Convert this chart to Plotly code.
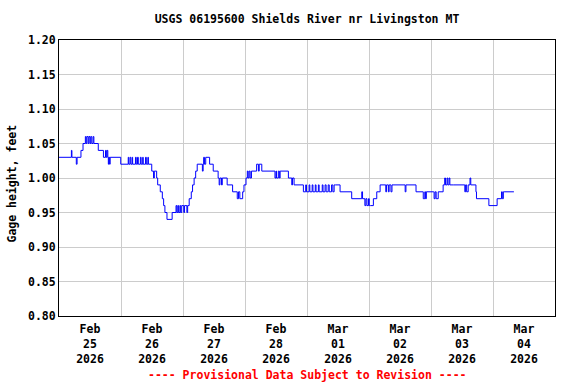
import pandas as pd
import plotly.graph_objects as go

# Change points of the gage-height step trace (hours since 2026-02-25 00:00, feet)
change_hours = [
    0, 4.8, 5.0, 6.7, 7.0, 8.5, 9.3, 10.2, 10.5, 10.8, 11.3, 11.6, 12.0, 12.3, 12.7, 13.2, 13.5,
    15.2, 17.2, 18.0, 18.3, 18.6, 18.9, 19.1, 19.3, 19.6, 19.8, 23.9,
    26.8, 27.0, 27.5, 27.8, 28.3, 28.5, 29.6, 29.9, 30.4, 30.7, 31.5, 31.8, 32.4, 32.6, 33.5, 33.8, 34.4, 34.6,
    35.9, 36.6, 36.9, 37.8, 38.2, 39.2, 40.0, 40.5, 41.0, 41.8, 43.8, 45.3,
    45.6, 46.0, 46.3, 46.8, 47.1, 47.5, 48.3, 48.6, 49.5, 49.8,
    50.4, 51.2, 51.7, 52.3, 52.9, 53.5, 55.5, 55.8, 56.0, 56.3, 56.8, 58.3,
    59.7, 61.6, 62.0, 62.3, 62.9, 63.2, 65.1, 67.2, 69.0, 69.5, 70.0,
    71.1, 71.6, 72.4, 72.9, 73.2, 73.6, 74.0, 74.5, 76.5, 77.2, 77.5, 78.5,
    83.6, 84.0, 84.2, 84.9, 85.3, 85.6, 88.8, 90.1, 90.4, 91.0, 94.6,
    95.5, 95.8, 96.8, 97.1, 98.0, 98.3, 99.2, 99.5, 100.4, 100.7, 101.9, 102.2, 103.0, 103.4,
    104.2, 104.6, 105.5, 106.0, 106.5, 107.0, 108.8, 113.3, 117.2, 117.5,
    118.4, 118.8, 119.2, 119.8, 120.1, 120.6, 121.7, 123.0, 124.3,
    126.5, 126.8, 127.5, 127.8, 128.5, 128.9, 134.0, 134.3, 138.2, 141.0,
    141.6, 141.9, 142.2, 144.9, 145.2, 145.6, 146.0, 146.8, 148.7, 149.3, 149.6, 150.2, 150.5, 151.0, 151.3,
    152.6, 157.1, 157.4, 157.8, 158.4, 159.1, 159.4, 161.4, 161.6, 166.4, 169.6, 171.3, 171.6, 172.0, 172.6, 176.1,
]
change_values = [
    1.03, 1.04, 1.03, 1.02, 1.03, 1.04, 1.05, 1.06, 1.05, 1.06, 1.05, 1.06, 1.05, 1.06, 1.05, 1.06, 1.05,
    1.04, 1.03, 1.04, 1.03, 1.04, 1.03, 1.02, 1.03, 1.02, 1.03, 1.02,
    1.03, 1.02, 1.03, 1.02, 1.03, 1.02, 1.03, 1.02, 1.03, 1.02, 1.03, 1.02, 1.03, 1.02, 1.03, 1.02, 1.03, 1.02,
    1.01, 1.00, 1.01, 1.00, 0.99, 0.98, 0.97, 0.96, 0.95, 0.94, 0.95, 0.96,
    0.95, 0.96, 0.95, 0.96, 0.95, 0.96, 0.95, 0.96, 0.95, 0.96,
    0.97, 0.98, 0.99, 1.00, 1.01, 1.02, 1.01, 1.02, 1.03, 1.02, 1.03, 1.02,
    1.01, 1.00, 0.99, 1.00, 0.99, 1.00, 0.99, 0.98, 0.97, 0.98, 0.97,
    0.98, 0.99, 1.00, 1.01, 1.00, 1.01, 1.00, 1.01, 1.02, 1.01, 1.02, 1.01,
    1.00, 1.01, 1.00, 1.01, 1.00, 1.01, 1.00, 0.99, 1.00, 0.99, 0.98,
    0.99, 0.98, 0.99, 0.98, 0.99, 0.98, 0.99, 0.98, 0.99, 0.98, 0.99, 0.98, 0.99, 0.98,
    0.99, 0.98, 0.99, 0.98, 0.99, 0.99, 0.98, 0.97, 0.98, 0.97,
    0.96, 0.97, 0.96, 0.97, 0.96, 0.96, 0.97, 0.98, 0.99,
    0.98, 0.99, 0.98, 0.99, 0.98, 0.99, 0.98, 0.99, 0.98, 0.97,
    0.98, 0.97, 0.98, 0.98, 0.97, 0.98, 0.97, 0.98, 0.99, 1.00, 0.99, 1.00, 0.99, 1.00, 0.99,
    0.99, 0.98, 0.99, 0.98, 0.99, 1.00, 0.99, 0.98, 0.97, 0.96, 0.97, 0.98, 0.97, 0.98, 0.98, 0.98,
]

day_labels = ["Feb<br>25<br>2026", "Feb<br>26<br>2026", "Feb<br>27<br>2026", "Feb<br>28<br>2026",
              "Mar<br>01<br>2026", "Mar<br>02<br>2026", "Mar<br>03<br>2026", "Mar<br>04<br>2026"]
y_ticks = [0.80, 0.85, 0.90, 0.95, 1.00, 1.05, 1.10, 1.15, 1.20]

base = pd.Timestamp("2026-02-25 00:00")
times = [base + pd.Timedelta(hours=h) for h in change_hours]
midnights = [base + pd.Timedelta(days=d) for d in range(9)]
noons = [base + pd.Timedelta(days=d, hours=12) for d in range(8)]

FONT = "DejaVu Sans Mono"

fig = go.Figure()
fig.add_trace(go.Scatter(x=times, y=change_values, mode="lines", line_shape="hv",
                         line=dict(color="#0000ff", width=1), showlegend=False, hoverinfo="skip"))

fig.update_layout(
    width=576, height=384,
    margin=dict(l=59, r=21, t=40, b=68),
    paper_bgcolor="white", plot_bgcolor="white",
    title=dict(text="USGS 06195600 Shields River nr Livingston MT",
               font=dict(family=FONT, size=11.5, color="black", weight="bold"),
               x=(59 + 555) / 2 / 576, xanchor="center", xref="container",
               y=1 - 19 / 384, yanchor="middle", yref="container"),
    xaxis=dict(range=[midnights[0], midnights[-1]], tickvals=noons, ticktext=day_labels,
               ticks="", showgrid=False, zeroline=False, ticklabelstandoff=2,
               tickfont=dict(family=FONT, size=11.5, color="black", weight="bold"),
               showline=True, linecolor="black", linewidth=1, mirror=True,
               minor=dict(tickvals=midnights, showgrid=True, gridcolor="#cccccc", gridwidth=1, ticks="")),
    yaxis=dict(range=[0.80, 1.20], tickvals=y_ticks, tickformat=".2f",
               ticks="", showgrid=True, gridcolor="#cccccc", gridwidth=1, zeroline=False,
               tickfont=dict(family=FONT, size=11.5, color="black", weight="bold"),
               showline=True, linecolor="black", linewidth=1, mirror=True),
    annotations=[
        dict(text="Gage height, feet", textangle=-90, xref="paper", yref="paper",
             x=(12 - 59) / 496, y=0.48, xanchor="center", yanchor="middle", showarrow=False,
             font=dict(family=FONT, size=11.5, color="black", weight="bold")),
        dict(text="---- Provisional Data Subject to Revision ----", xref="paper", yref="paper",
             x=0.5, y=-(375 - 316) / 276, xanchor="center", yanchor="middle", showarrow=False,
             font=dict(family=FONT, size=11.5, color="red", weight="bold")),
    ],
)

fig.write_html("out.html", config={"displayModeBar": False},
               post_script="document.body.style.margin='0';")
